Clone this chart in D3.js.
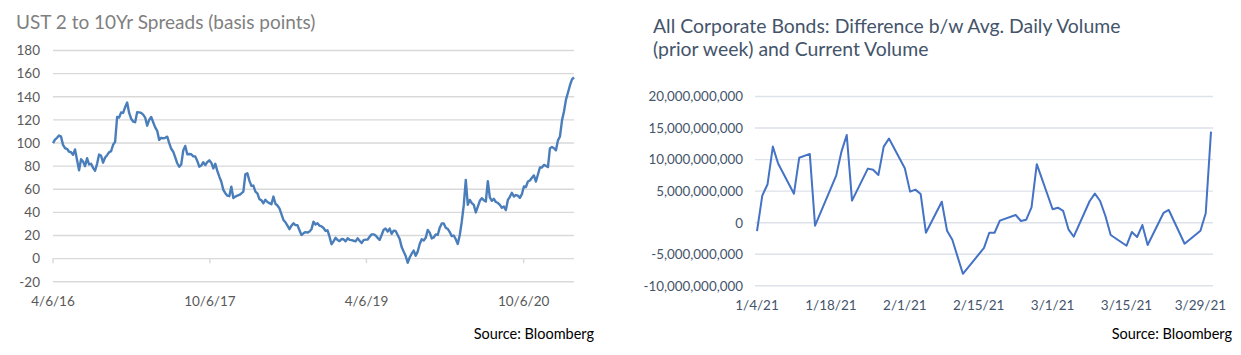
<!DOCTYPE html>
<html><head><meta charset="utf-8">
<script src="https://cdn.jsdelivr.net/npm/d3@7"></script>
<style>
body{margin:0;background:#fff;}
svg{display:block;font-family:Lato,"Open Sans",sans-serif;}
</style>
</head><body>
<svg id="c" width="1241" height="355"></svg>
<script>
// ---------- Left chart: UST 2s10s spread (weekly readings) ----------
const spreadTitle = "UST 2 to 10Yr Spreads (basis points)";
const spreadStart = "2016-04-06";
const spreadStepDays = 7;
const spreadValues = [
99.9,103,104.5,106.5,105.5,98.4,95.5,95,92.5,92,89.8,94.5,85.4,76.5,86,84,80,86.9,81.5,82,
78.5,76,82,90,89,83,87.5,89.5,92,93,98.5,101,122.5,122.1,126.5,126,131,135,126,121,
118.6,118,126.7,126.5,126,124.5,122,115,120,122.5,118,113.5,110.5,102.7,104.5,104,104.5,105.5,100,95,
92.5,87.5,82.5,79.5,81.5,
93.5,97.5,90.3,90.5,90.3,88.5,88.3,84.5,79.5,80.5,83.4,81,83.5,85,83,78,82,75.9,71,66.5,
59.5,56.6,54.5,54,62.3,52.5,53.7,54.5,55.1,56.5,58,73,73.9,67.5,63,63.2,58,56.5,51.5,50.5,
47.9,51,49,48,47,53.7,47.5,46,43.5,38.5,33.5,31.5,28.5,25.5,28.5,30.6,29,29,24.5,20.5,
21.9,23,22.5,23.5,25.5,32,
29.5,30.6,28.5,28,26.5,24,24.5,19,12.5,15,18,16.2,15.2,17,16.8,15,17.6,16.3,16,15.5,
15,17.6,15.5,13.5,16,16.5,16.5,19,21,21,20,18,16.2,20.5,25,26,23.4,26,21.5,24.2,
24,20.5,17,10,6.1,2.3,-3.5,1,4.3,7,2.5,6.1,12.7,16.8,15.8,18,24.8,22.5,17.5,18.3,
21,20.5,26.8,30.5,30.5,
26.8,25.7,23,19.5,20,16.8,12.7,20.5,32,46.5,68.1,46.5,50.8,48,46.5,40,45.1,50,52.3,50.5,
49.4,67,53,50,51.7,49,48.3,46.5,44,45.1,42,50.8,53.5,57,53.7,55,54.5,52.6,55.8,62.4,
62,66.7,67.6,70,72,66.7,72.8,78.8,78.8,81.1,80.2,79.2,95.5,96.5,95.5,93.7,102.3,105.7,119.4,127.3,
137.5,143.7,150,155,156.7
];
const spreadYTicks = [-20,0,20,40,60,80,100,120,140,160,180];
const spreadXTicks = ["2016-04-06","2017-10-06","2019-04-06","2020-10-06"];
const spreadXTickLabels = ["4/6/16","10/6/17","4/6/19","10/6/20"];

// ---------- Right chart: corporate bond volume difference ----------
const volTitle = ["All Corporate Bonds: Difference b/w Avg. Daily Volume","(prior week) and Current Volume"];
const volDates = [
"2021-01-04","2021-01-05","2021-01-06","2021-01-07","2021-01-08","2021-01-11","2021-01-12","2021-01-14","2021-01-15",
"2021-01-19","2021-01-20","2021-01-21","2021-01-22","2021-01-25","2021-01-26","2021-01-27","2021-01-28","2021-01-29",
"2021-02-01","2021-02-02","2021-02-03","2021-02-04","2021-02-05","2021-02-08","2021-02-09","2021-02-10","2021-02-12",
"2021-02-16","2021-02-17","2021-02-18","2021-02-19","2021-02-22","2021-02-23","2021-02-24","2021-02-25","2021-02-26",
"2021-03-01","2021-03-02","2021-03-03","2021-03-04","2021-03-05","2021-03-08","2021-03-09","2021-03-10","2021-03-11","2021-03-12",
"2021-03-15","2021-03-16","2021-03-17","2021-03-18","2021-03-19","2021-03-22","2021-03-23","2021-03-26",
"2021-03-29","2021-03-30","2021-03-31"
];
const volValues = [
-1.32e9,4.29e9,6.1e9,12.06e9,9.37e9,4.6e9,10.3e9,10.9e9,-0.48e9,
7.46e9,11.27e9,13.9e9,3.5e9,8.57e9,8.4e9,7.57e9,12.06e9,13.33e9,
8.63e9,4.92e9,5.24e9,4.55e9,-1.59e9,3.33e9,-1.27e9,-2.7e9,-8.1e9,
-4.0e9,-1.59e9,-1.59e9,0.32e9,1.22e9,0.27e9,0.48e9,2.44e9,9.27e9,
2.13e9,2.38e9,1.86e9,-1.05e9,-2.22e9,3.4e9,4.6e9,3.44e9,1.06e9,-1.95e9,
-3.65e9,-1.48e9,-2.27e9,-0.37e9,-3.54e9,1.54e9,2.02e9,-3.33e9,
-1.27e9,1.49e9,14.44e9
];
const volYTicks = [-10e9,-5e9,0,5e9,10e9,15e9,20e9];
const volXTicks = ["2021-01-04","2021-01-18","2021-02-01","2021-02-15","2021-03-01","2021-03-15","2021-03-29"];
const volXTickLabels = ["1/4/21","1/18/21","2/1/21","2/15/21","3/1/21","3/15/21","3/29/21"];
const sourceText = "Source: Bloomberg";

// ---------- drawing ----------
const svg = d3.select("#c");
const parse = d3.utcParse("%Y-%m-%d");
const loc = d3.formatLocale({decimal:".",thousands:",",grouping:[3],currency:["$",""],minus:"-"});
const fmtComma = loc.format(",");
const fmtInt = loc.format("d");

// Left
(function(){
  const start = parse(spreadStart);
  const dates = spreadValues.map((v,i)=>d3.utcDay.offset(start, i*spreadStepDays));
  const x = d3.scaleUtc().domain([start, dates[dates.length-1]]).range([53,574]);
  const y = d3.scaleLinear().domain([-20,180]).range([281.8,50.5]);
  const g = svg.append("g");
  g.append("text").attr("x",16).attr("y",29).attr("font-size",19).attr("fill","#808080").text(spreadTitle);
  g.selectAll("line.grid").data(spreadYTicks).join("line")
    .attr("x1",x.range()[0]).attr("x2",x.range()[1])
    .attr("y1",d=>y(d)).attr("y2",d=>y(d))
    .attr("stroke","#d9d9d9").attr("stroke-width",1.4);
  g.selectAll("text.yl").data(spreadYTicks).join("text")
    .attr("x",40).attr("y",d=>y(d)+4.8).attr("text-anchor","end")
    .attr("font-size",13.5).attr("fill","#595959").text(d=>fmtInt(d));
  g.selectAll("line.tk").data(spreadXTicks).join("line")
    .attr("x1",d=>x(parse(d))).attr("x2",d=>x(parse(d)))
    .attr("y1",y(0)).attr("y2",y(0)+4.5)
    .attr("stroke","#d9d9d9").attr("stroke-width",1.4);
  g.selectAll("text.xl").data(spreadXTicks).join("text")
    .attr("x",d=>x(parse(d))).attr("y",306).attr("text-anchor","middle")
    .attr("font-size",13.5).attr("fill","#595959").text((d,i)=>spreadXTickLabels[i]);
  const line = d3.line().x((d,i)=>x(dates[i])).y(d=>y(d)).curve(d3.curveLinear);
  g.append("path").attr("d",line(spreadValues)).attr("fill","none")
    .attr("stroke","#4a7ebb").attr("stroke-width",2.4).attr("stroke-linejoin","round");
  g.append("text").attr("x",594).attr("y",339).attr("text-anchor","end")
    .attr("font-size",14.5).attr("fill","#000").text(sourceText);
})();

// Right
(function(){
  const dates = volDates.map(parse);
  const x = d3.scaleUtc().domain([dates[0], dates[dates.length-1]]).range([757,1211]);
  const y = d3.scaleLinear().domain([-10e9,20e9]).range([285.8,96.5]);
  const g = svg.append("g");
  g.selectAll("text.t").data(volTitle).join("text")
    .attr("x",653).attr("y",(d,i)=>33+i*23).attr("font-size",19.4).attr("fill","#44546a").text(d=>d);
  g.selectAll("line.grid").data(volYTicks).join("line")
    .attr("x1",755).attr("x2",1213)
    .attr("y1",d=>y(d)).attr("y2",d=>y(d))
    .attr("stroke","#dde2ea").attr("stroke-width",1.4);
  g.selectAll("text.yl").data(volYTicks).join("text")
    .attr("x",743).attr("y",d=>y(d)+4.8).attr("text-anchor","end")
    .attr("font-size",13.4).attr("fill","#44546a").text(d=>fmtComma(d));
  g.selectAll("text.xl").data(volXTicks).join("text")
    .attr("x",d=>x(parse(d))).attr("y",310).attr("text-anchor","middle")
    .attr("font-size",13.5).attr("fill","#44546a").text((d,i)=>volXTickLabels[i]);
  const line = d3.line().x((d,i)=>x(dates[i])).y(d=>y(d));
  g.append("path").attr("d",line(volValues)).attr("fill","none")
    .attr("stroke","#4472c4").attr("stroke-width",2).attr("stroke-linejoin","round");
  g.append("text").attr("x",1232).attr("y",339).attr("text-anchor","end")
    .attr("font-size",14.5).attr("fill","#000").text(sourceText);
})();
</script>
</body></html>
